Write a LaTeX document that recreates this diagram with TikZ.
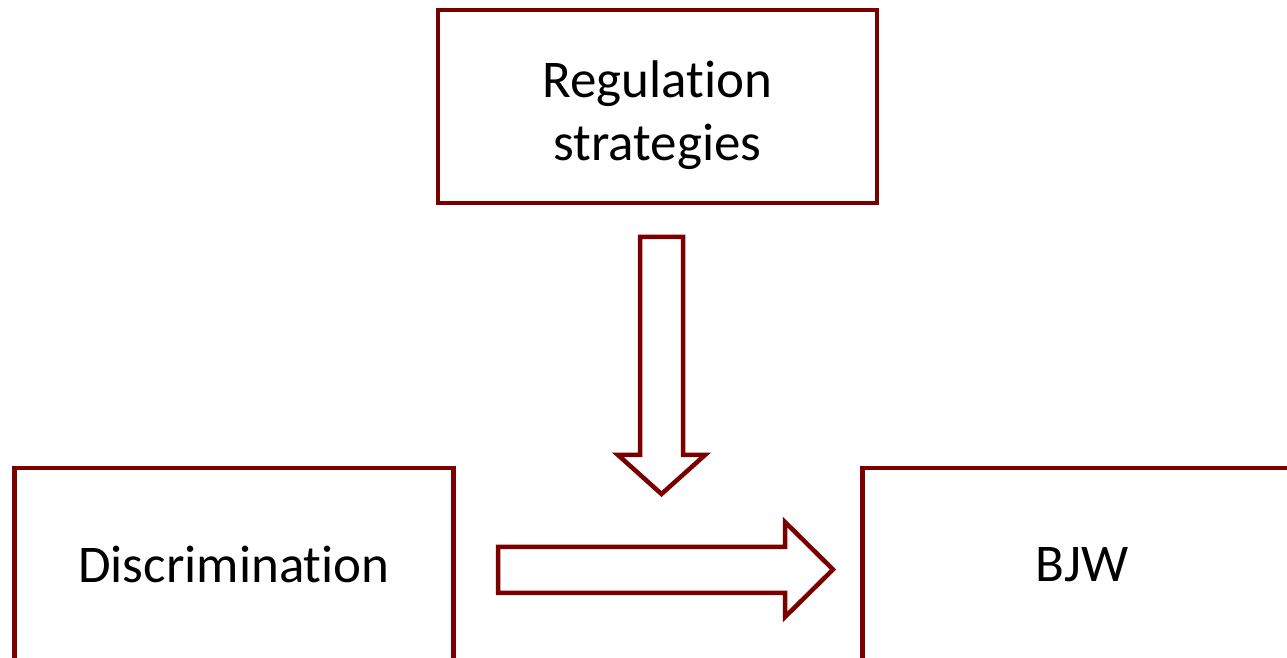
\documentclass[tikz,border=0pt]{standalone}
\usepackage{fontspec}
\setmainfont[Ligatures=NoCommon]{Carlito}
\usepackage{xcolor}
\usepackage{tikz}
\definecolor{boxred}{HTML}{7A0000}

\begin{document}
\begin{tikzpicture}[x=1pt,y=1pt,
    box/.style={draw=boxred,line width=4.5pt,minimum width=439pt,minimum height=193pt,
      align=center,font=\fontsize{53}{63}\selectfont},
    blockarrow/.style={draw=boxred,line width=4.5pt,line join=miter}]
  \useasboundingbox (0,0) rectangle (1287,658);
  \clip (0,0) rectangle (1287,658);
  \node[box] (reg) at (657.5,551.5) {\rule{0pt}{54pt}Regulation\\strategies};
  \node[box] (disc) at (234,93.5) {Discrimination};
  \node[box] (bjw) at (1082,93.5) {BJW};
  % block arrows
  \draw[blockarrow] (640,421) -- (683,421) -- (683,203) -- (705,203) -- (661.5,164)
    -- (618,203) -- (640,203) -- cycle;
  \draw[blockarrow] (498,111) -- (785,111) -- (785,136) -- (833,88.5) -- (785,41)
    -- (785,65) -- (498,65) -- cycle;
\end{tikzpicture}
\end{document}
